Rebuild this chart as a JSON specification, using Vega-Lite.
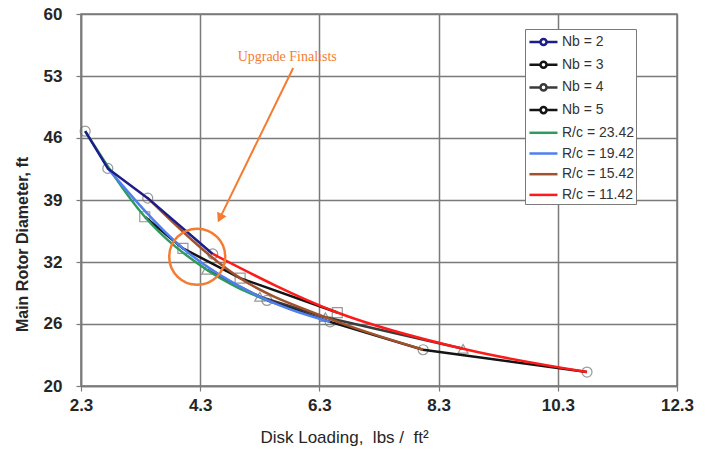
{
  "$schema": "https://vega.github.io/schema/vega-lite/v6.json",
  "width": 596,
  "height": 372,
  "autosize": {"type": "none"},
  "padding": {"left": 81, "top": 14, "right": 33, "bottom": 71},
  "background": "white",
  "config": {
    "view": {"stroke": "#7a7a7a", "strokeWidth": 1.5},
    "axis": {
      "labelFont": "Liberation Sans",
      "labelFontSize": 17,
      "labelFontWeight": "bold",
      "labelColor": "#262626",
      "titleFont": "Liberation Sans",
      "titleColor": "#262626",
      "gridColor": "#7a7a7a",
      "gridWidth": 1.5,
      "gridOpacity": 1,
      "domainColor": "#7a7a7a",
      "domainWidth": 1.5,
      "tickColor": "#7a7a7a",
      "tickWidth": 1.2,
      "tickSize": 5,
      "labelFlush": false,
      "labelOverlap": false
    }
  },
  "datasets": {
    "designs": [
      {"nb": "Nb = 2", "rc": "R/c = 23.42", "x": 2.37, "y": 47.4},
      {"nb": "Nb = 2", "rc": "R/c = 19.42", "x": 2.75, "y": 43.4},
      {"nb": "Nb = 2", "rc": "R/c = 15.42", "x": 3.42, "y": 40.2},
      {"nb": "Nb = 2", "rc": "R/c = 11.42", "x": 4.51, "y": 34.2},
      {"nb": "Nb = 3", "rc": "R/c = 23.42", "x": 3.37, "y": 38.2},
      {"nb": "Nb = 3", "rc": "R/c = 19.42", "x": 4.01, "y": 34.8},
      {"nb": "Nb = 3", "rc": "R/c = 15.42", "x": 4.97, "y": 31.6},
      {"nb": "Nb = 3", "rc": "R/c = 11.42", "x": 6.6, "y": 27.9},
      {"nb": "Nb = 4", "rc": "R/c = 23.42", "x": 4.41, "y": 32.5},
      {"nb": "Nb = 4", "rc": "R/c = 19.42", "x": 5.3, "y": 29.6},
      {"nb": "Nb = 4", "rc": "R/c = 15.42", "x": 6.4, "y": 27.4},
      {"nb": "Nb = 4", "rc": "R/c = 11.42", "x": 8.71, "y": 24.0},
      {"nb": "Nb = 5", "rc": "R/c = 23.42", "x": 5.42, "y": 29.2},
      {"nb": "Nb = 5", "rc": "R/c = 19.42", "x": 6.48, "y": 26.9},
      {"nb": "Nb = 5", "rc": "R/c = 15.42", "x": 8.04, "y": 23.9},
      {"nb": "Nb = 5", "rc": "R/c = 11.42", "x": 10.79, "y": 21.5}
    ],
    "callout": [
      {"kind": "label", "x": 5.76, "y": 55.4, "text": "Upgrade Finalists"},
      {"kind": "arrow", "x": 5.86, "y": 54.2, "x2": 4.63, "y2": 38.05},
      {"kind": "head", "x": 4.63, "y": 38.05},
      {"kind": "ring", "x": 4.25, "y": 33.9}
    ]
  },
  "encoding": {
    "x": {
      "field": "x",
      "type": "quantitative",
      "scale": {"domain": [2.3, 12.3], "nice": false, "zero": false},
      "axis": {
        "values": [2.3, 4.3, 6.3, 8.3, 10.3, 12.3],
        "format": ".1f",
        "labelPadding": 6,
        "title": "Disk Loading,\u00a0 lbs /\u00a0 ft²",
        "titleFontSize": 17,
        "titleFontWeight": "normal",
        "titleX": 263,
        "titleY": 51,
        "titleAlign": "center",
        "titleBaseline": "middle"
      }
    },
    "y": {
      "field": "y",
      "type": "quantitative",
      "scale": {"domain": [20, 60], "nice": false, "zero": false},
      "axis": {
        "values": [20, 26.6667, 33.3333, 40, 46.6667, 53.3333, 60],
        "labelExpr": "datum.value < 21 ? '20' : datum.value < 28 ? '26' : datum.value < 35 ? '32' : datum.value < 41 ? '39' : datum.value < 48 ? '46' : datum.value < 55 ? '53' : '60'",
        "labelPadding": 14,
        "title": "Main Rotor Diameter, ft",
        "titleFontSize": 16,
        "titleFontWeight": "bold",
        "titleAngle": 270,
        "titleX": -59,
        "titleY": 230,
        "titleAlign": "center",
        "titleBaseline": "middle"
      }
    }
  },
  "layer": [
    {
      "data": {"name": "designs"},
      "mark": {"type": "point", "filled": false, "stroke": "#6e6e6e", "strokeWidth": 1.2, "size": 100},
      "encoding": {
        "shape": {
          "field": "nb",
          "type": "nominal",
          "scale": {"domain": ["Nb = 2", "Nb = 3", "Nb = 4", "Nb = 5"], "range": ["circle", "square", "triangle-up", "circle"]},
          "legend": null
        }
      }
    },
    {
      "data": {"name": "designs"},
      "transform": [{"filter": "datum.nb !== 'Nb = 2'"}],
      "mark": {"type": "line", "strokeWidth": 2.5},
      "encoding": {
        "detail": {"field": "nb"},
        "color": {
          "field": "nb",
          "type": "nominal",
          "scale": {
            "domain": ["Nb = 2", "Nb = 3", "Nb = 4", "Nb = 5", "R/c = 23.42", "R/c = 19.42", "R/c = 15.42", "R/c = 11.42"],
            "range": ["#1c1c8a", "#141414", "#3a3a3a", "#141414", "#2e9a5e", "#4f7ff0", "#a0522d", "#ff1a1a"]
          },
          "legend": {
            "title": null,
            "orient": "none",
            "legendX": 444,
            "legendY": 15,
            "padding": 2,
            "fillColor": "white",
            "strokeColor": "#7a7a7a",
            "symbolSize": 361,
            "symbolStrokeWidth": 2.5,
            "rowPadding": 2.7,
            "labelOffset": 13,
            "labelFont": "Liberation Sans",
            "labelFontSize": 14,
            "labelColor": "#333333",
            "labelLimit": 200,
            "encode": {
              "legend": {
                "update": {"width": {"value": 123}}
              },
              "symbols": {
                "update": {
                  "shape": {"signal": "indexof(datum.value, 'Nb') === 0 ? 'M-0.9,0H0.26M0.9,0H2.05M0.26,0A0.32,0.32 0 1,0 0.9,0A0.32,0.32 0 1,0 0.26,0' : 'M-0.9,0H2.05'"},
                  "fill": {"value": "white"},
                  "strokeWidth": {"value": 2.5}
                }
              }
            }
          }
        }
      }
    },
    {
      "data": {"name": "designs"},
      "mark": {"type": "line", "strokeWidth": 2.5, "interpolate": "monotone"},
      "encoding": {
        "detail": {"field": "rc"},
        "color": {"field": "rc", "type": "nominal"}
      }
    },
    {
      "data": {"name": "designs"},
      "transform": [{"filter": "datum.nb === 'Nb = 2'"}],
      "mark": {"type": "line", "strokeWidth": 2.5},
      "encoding": {
        "color": {"field": "nb", "type": "nominal"}
      }
    },
    {
      "data": {"name": "callout"},
      "transform": [{"filter": "datum.kind === 'arrow'"}],
      "mark": {"type": "rule", "stroke": "#f47c30", "strokeWidth": 2},
      "encoding": {
        "x2": {"field": "x2"},
        "y2": {"field": "y2"}
      }
    },
    {
      "data": {"name": "callout"},
      "transform": [{"filter": "datum.kind === 'head'"}],
      "mark": {"type": "point", "shape": "triangle-up", "filled": true, "fill": "#f47c30", "opacity": 1, "size": 110, "angle": 206}
    },
    {
      "data": {"name": "callout"},
      "transform": [{"filter": "datum.kind === 'ring'"}],
      "mark": {"type": "point", "shape": "circle", "filled": false, "stroke": "#f47c30", "strokeWidth": 2.5, "opacity": 1, "size": 3136}
    },
    {
      "data": {"name": "callout"},
      "transform": [{"filter": "datum.kind === 'label'"}],
      "mark": {"type": "text", "font": "Liberation Serif", "fontSize": 14, "color": "#f47c30", "align": "center", "baseline": "middle"},
      "encoding": {
        "text": {"field": "text"}
      }
    }
  ]
}
